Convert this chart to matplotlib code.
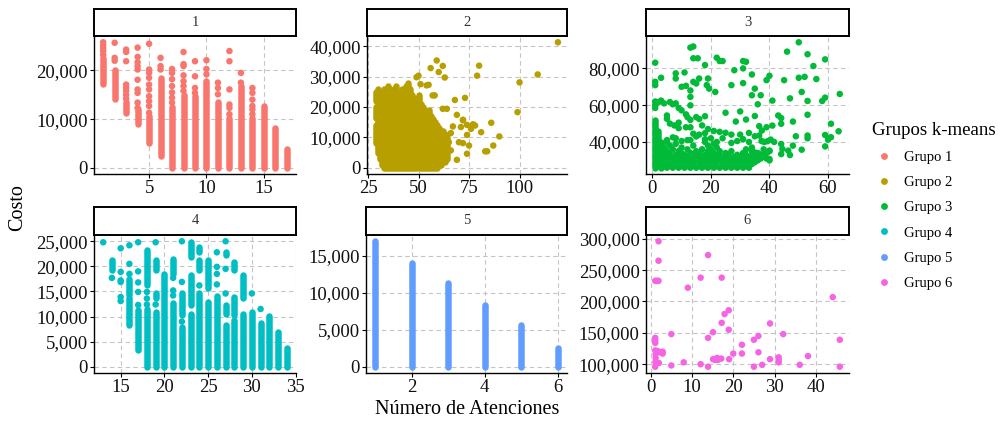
import matplotlib
matplotlib.use('Agg')
import matplotlib.pyplot as plt
from matplotlib.lines import Line2D
from matplotlib.ticker import FuncFormatter, FixedLocator
import numpy as np

plt.rcParams['font.family'] = ['Liberation Serif', 'DejaVu Serif']

# ---------------- data (cost values in thousands) ----------------
group_names = ['Grupo 1', 'Grupo 2', 'Grupo 3', 'Grupo 4', 'Grupo 5', 'Grupo 6']
group_colors = ['#F8766D', '#B79F00', '#00BA38', '#00BFC4', '#619CFF', '#F564E3']
facet_labels = ['1', '2', '3', '4', '5', '6']

# dense columns: (x, low, high)
g1_cols = [(1, 17.2, 22.5), (2, 14.2, 20.0), (3, 11.3, 13.5), (4, 8.9, 12.0), (5, 5.1, 10.6),
           (6, 2.4, 18.5), (7, 0, 12.5), (8, 0, 15.0), (9, 0, 14.7), (10, 0, 17.8),
           (11, 0, 13.5), (12, 0, 10.3), (13, 0, 16.8), (14, 0, 10.3), (15, 0, 12.7),
           (16, 0, 8.2), (17, 0, 3.8)]
g1_x = [1, 1, 1, 1, 1, 2, 2, 2, 3, 3, 3, 3, 3, 3, 3, 3, 4, 4, 4, 4, 4, 4, 4, 4, 4, 4,
        5, 5, 5, 5, 5, 5, 5, 5, 5, 5, 6, 6, 6, 7, 7, 7, 7, 7, 7, 7, 8, 8, 8, 8, 8, 8, 8,
        9, 9, 9, 9, 10, 10, 10, 11, 11, 11, 12, 12, 12, 12, 12, 12, 13, 13,
        14, 14, 14, 14, 14, 14]
g1_y = [23.2, 24.0, 24.6, 25.2, 25.8, 22.0, 22.6, 25.7, 14.2, 15.0, 15.8, 16.4, 17.1, 21.9, 23.8, 24.3,
        12.3, 13.4, 15.4, 16.1, 18.1, 20.2, 20.9, 21.7, 22.8, 24.7,
        11.3, 12.7, 13.7, 14.7, 16.1, 17.1, 18.5, 19.5, 20.2, 25.5, 20.2, 20.9, 22.6,
        13.4, 14.4, 15.5, 16.8, 18.2, 19.5, 20.3, 15.8, 16.8, 17.8, 19.0, 20.9, 21.3, 23.8,
        15.4, 16.4, 18.8, 21.9, 19.2, 20.3, 22.1, 15.1, 16.4, 17.5, 11.0, 12.3, 13.0, 16.1, 21.9, 24.0,
        17.5, 19.5, 11.0, 12.0, 12.7, 14.0, 15.4, 16.4]

g2_cols = [(29, 8, 14), (29, 16.5, 20), (29, 22, 25), (30, 5, 12), (30, 14.5, 26), (31, 3, 18),
           (31, 20.5, 25), (32, 1, 25), (33, 0, 22), (33, 24.5, 26), (34, 0, 17), (34, 19.5, 25),
           (35, 0, 14), (35, 16.5, 22), (35, 24.5, 27), (36, 0, 20), (36, 23, 26), (37, 0, 15),
           (37, 18, 25), (38, 0, 13), (38, 15.5, 19), (38, 21.5, 26), (39, 0, 17), (39, 19.5, 27),
           (40, 0, 14), (40, 17, 22), (40, 24.5, 25), (41, 0, 18), (41, 21, 24), (42, 0, 12),
           (42, 14.5, 20), (42, 22.5, 26), (43, 0, 16), (43, 18.5, 25), (44, 0, 13), (44, 16, 21),
           (44, 24, 27), (45, 0, 15), (45, 18, 22), (45, 26, 28), (46, 0, 17), (46, 20, 26),
           (47, 0, 12), (47, 15, 20), (47, 23, 24), (48, 0, 14), (48, 17, 23), (49, 0, 13),
           (49, 16, 22), (50, 0, 15), (50, 18, 24), (51, 0, 11), (51, 13.5, 17), (51, 19.5, 21),
           (52, 0, 13), (52, 16, 20), (53, 0, 12), (53, 15, 19), (54, 0, 10), (54, 13, 18),
           (55, 0, 14), (55, 17, 19), (56, 0, 17), (57, 0, 12), (57, 14.5, 16), (58, 0, 15),
           (59, 0, 11), (59, 13, 14), (60, 1, 13), (61, 1, 9), (61, 11, 12), (62, 2, 12),
           (63, 2, 7), (63, 9, 11), (64, 3, 10)]
g2_x = [59, 56, 62, 60, 63, 50, 51, 80, 79, 55, 57, 68, 73, 69, 72, 74, 77, 81, 67, 66, 74, 72, 74,
        69, 83, 62, 64, 86, 90, 87, 84, 99, 100, 109, 119, 49, 54, 58, 64, 62, 76, 78, 71, 70, 75,
        66, 65, 72]
g2_y = [35.3, 32.8, 33.5, 31.5, 29.7, 30.3, 27.5, 33.6, 30.3, 27.3, 23.8, 22.3, 23.0, 17.4, 15.8,
        14.1, 14.3, 11.7, 13.6, 11.4, 10.8, 8.1, 4.6, 2.6, 5.4, 8.7, 5.9, 14.8, 10.3, 7.3, 5.4, 18.3,
        28.1, 30.7, 41.3, 29.8, 27.1, 23.8, 19.4, 19.4, 12.8, 13.9, 13.4, 8.4, 7.3, 5.7, 8.4, 15.6]

g3_cols = [(1, 26, 52), (2, 27, 46), (3, 26, 40)]
g3_x = [13, 14, 15.5, 14, 22, 23, 24, 18, 1, 31, 28, 31, 8, 11, 8, 3, 1, 1, 16, 19, 10, 11.5, 14, 15,
        13, 13, 18.6, 19.4, 21.5, 27, 31, 1, 2, 3, 4, 1, 1, 6, 7, 8, 9, 10, 11.5, 12, 13, 13, 15, 16,
        18, 25, 28.5, 30, 5, 5, 6, 7.5, 9, 9, 11.5, 13, 17, 19, 21, 14, 16, 18, 23, 25, 27, 30,
        5, 7, 10, 13, 18, 22, 24, 27, 29, 31,
        50, 46, 53, 59, 55, 32, 34, 40, 39, 45, 50, 52, 56, 35, 34, 37, 36, 41, 47, 51, 53, 58, 59, 64,
        32, 35, 43, 44, 44, 48, 53, 61, 63.6, 36.5, 37.4, 39, 41, 33, 35, 36.5, 37.3, 38.2, 39.3, 40.4,
        41.6, 49, 53, 53, 59, 61, 60, 44, 44.4, 48, 51, 59, 33, 34, 35, 36.5, 37.6, 34, 33, 40, 40,
        44, 46.4, 47,
        4, 4, 4, 4, 5, 5, 5, 5, 5, 6, 6, 6, 6, 7, 7, 7, 7, 8, 8, 8, 8, 8, 9, 9, 9, 9, 10, 10, 10, 10,
        11, 11, 11, 11, 12, 12, 12, 12, 12, 13, 13, 13, 13, 14, 14, 14, 14, 15, 15, 15, 15, 15,
        16, 16, 16, 16, 17, 17, 17, 17, 18, 18, 18, 18, 19, 19, 19, 19, 19, 20, 20, 20, 20, 20,
        21, 21, 21, 21, 21, 22, 22, 22, 22, 23, 23, 23, 23, 24, 24, 24, 25, 25, 25, 25, 26, 26, 26,
        27, 27, 27, 27, 28, 28, 28, 29, 29, 29, 29, 30, 30, 30, 31, 31, 31, 31, 32, 32, 32, 32,
        33, 33, 33, 34, 34, 34, 35, 35, 35, 36, 36, 37, 37, 38, 38, 39, 39, 40, 40]
g3_y = [91.3, 91.9, 85.5, 85.5, 85.8, 84.0, 84.0, 81.8, 83.1, 84.0, 79.0, 80.0, 77.3, 77.8, 74.5, 74.9,
        72.7, 70.9, 74.5, 74.5, 70.0, 70.5, 72.7, 71.8, 68.0, 64.5, 70.9, 69.0, 67.2, 70.9, 72.0, 62.0,
        61.5, 62.5, 61.0, 60.0, 58.5, 61.7, 60.5, 61.0, 58.5, 57.2, 55.0, 53.5, 52.0, 59.9, 53.5, 52.5,
        54.0, 55.9, 51.1, 56.6, 54.4, 52.6, 50.0, 49.0, 50.5, 47.5, 48.0, 48.0, 49.0, 47.0, 46.0, 44.5,
        44.0, 44.8, 45.5, 45.0, 44.0, 44.0,
        41.0, 42.5, 40.5, 41.0, 41.5, 40.0, 42.0, 39.5, 40.5, 41.5,
        94.2, 89.1, 87.7, 84.9, 81.3, 83.6, 76.7, 76.0, 73.6, 73.6, 74.9, 75.4, 74.2, 69.0, 65.4, 65.4,
        60.5, 62.5, 63.7, 67.2, 62.3, 62.3, 64.1, 66.1, 52.2, 54.1, 54.4, 53.0, 49.9, 51.1, 54.8, 49.9,
        45.8, 48.6, 46.2, 48.0, 48.9, 44.9, 43.1, 43.5, 40.5, 40.0, 40.4, 41.3, 40.0, 43.1, 43.5, 42.0,
        43.8, 42.6, 41.3, 38.9, 36.2, 38.0, 35.8, 37.6, 40.0, 37.0, 34.3, 33.4, 32.9, 32.5, 28.9, 35.3,
        30.7, 33.4, 35.3, 32.9,
        27, 30, 33, 37, 26, 29, 31, 35, 40, 28, 32, 34, 38, 26, 29, 31, 36, 27, 30, 33, 39, 42,
        26, 28, 32, 35, 27, 30, 34, 37, 26, 29, 31, 33, 27, 30, 32, 36, 41, 26, 28, 31, 34,
        27, 29, 33, 38, 26, 30, 32, 35, 43, 27, 29, 31, 34, 26, 28, 32, 36, 27, 30, 33, 40,
        26, 29, 31, 35, 38, 27, 30, 33, 36, 42, 26, 28, 31, 34, 39, 27, 29, 32, 37, 26, 30, 33, 35,
        27, 29, 31, 26, 28, 32, 34, 27, 30, 33, 26, 29, 31, 35, 27, 30, 32, 26, 28, 31, 33,
        27, 29, 32, 26, 28, 30, 34, 27, 31, 33, 36, 26, 29, 32, 28, 31, 35, 29, 33, 30.5, 30, 34,
        31, 33, 32, 36, 34, 31, 30, 35]

g4_cols = [(14, 19.2, 21.2), (16, 8.3, 13.6), (16, 14.2, 17.5), (17, 3.3, 11.3), (18, 0, 11.6),
           (18, 16.2, 23.2), (19, 19.2, 21.2), (19, 13.6, 14.6), (19, 0, 10.9), (20, 0, 18.5),
           (21, 18.5, 21.5), (21, 0, 12.6), (22, 10.3, 14.6), (22, 0, 8.0), (23, 21.9, 24.8),
           (23, 12.3, 18.2), (23, 0, 10.6), (24, 22.8, 23.8), (24, 19.2, 21.2), (24, 0, 14.6),
           (25, 15.6, 21.2), (25, 0, 12.9), (26, 0, 14.0), (27, 22.2, 22.8), (27, 10.6, 12.3),
           (27, 0, 8.3), (28, 19.2, 20.9), (28, 10.3, 13.9), (28, 0, 9.3), (29, 13.6, 18.2),
           (29, 0, 10.6), (30, 0, 10.9), (31, 0, 8.8), (32, 0, 10.1), (33, 0, 7.0), (34, 0, 3.8)]
g4_x = [13, 14, 15, 15, 15, 15, 15, 15, 16, 16, 16, 17, 17, 17, 17, 17, 18, 18, 18, 19, 19,
        21, 21, 21, 22, 22, 22, 24, 26, 26, 26, 26, 27, 27, 27, 30, 31]
g4_y = [24.8, 17.7, 13.1, 13.9, 16.9, 17.2, 18.9, 23.6, 18.5, 20.5, 24.2, 12.3, 14.9, 16.8, 19.0, 24.8,
        12.4, 13.6, 14.9, 24.8, 12.4, 17.7, 15.2, 14.2, 25.0, 16.9, 9.0, 16.2, 22.8, 19.9, 18.5, 16.4,
        25.0, 19.5, 14.6, 14.6, 11.5]

g5_cols = [(1, 0, 17.0), (2, 0, 14.0), (3, 0, 11.3), (4, 0, 8.4), (5, 0, 5.6), (6, 0, 2.6)]
g5_x = []
g5_y = []

g6_cols = []
g6_x = [1.9, 1.9, 1.1, 1.5, 1.9, 13.9, 12.1, 17.2, 9.0, 44.1, 18.9, 17.9, 17.2, 28.9, 18.9, 15.1,
        5.0, 32.1, 13.9, 1.1, 1.1, 1.1, 26.1, 25.0, 45.8, 22.1, 1.1, 1.7, 2.3, 2.9, 2.9, 1.2, 1.2, 1.2,
        20.0, 22.1, 26.1, 38.1, 31.0, 31.0, 31.0, 15.1, 16.1, 17.1, 16.3, 15.6, 19.0, 28.9, 8.0, 2.0,
        1.2, 12.1, 5.0, 13.9, 25.0, 27.0, 36.1, 45.8, 1.1]
g6_y = [296, 265, 233, 233, 233, 274, 238, 238, 222, 207, 186, 180, 166, 165, 155, 151, 148, 148,
        142, 142, 138, 134, 145, 139, 139, 131, 122, 121, 119, 117, 120, 116, 110, 104, 117, 117, 119,
        113, 111, 107, 103, 108, 110, 109, 107, 107, 108, 108, 103, 102, 102, 100, 98, 96, 96, 99, 99,
        96, 96]

all_cols = [g1_cols, g2_cols, g3_cols, g4_cols, g5_cols, g6_cols]
all_x = [g1_x, g2_x, g3_x, g4_x, g5_x, g6_x]
all_y = [g1_y, g2_y, g3_y, g4_y, g5_y, g6_y]

x_ticks = [[5, 10, 15], [25, 50, 75, 100], [0, 20, 40, 60],
           [15, 20, 25, 30, 35], [2, 4, 6], [0, 10, 20, 30, 40]]
y_ticks = [[0, 10000, 20000], [0, 10000, 20000, 30000, 40000], [40000, 60000, 80000],
           [0, 5000, 10000, 15000, 20000, 25000], [0, 5000, 10000, 15000],
           [100000, 150000, 200000, 250000, 300000]]

# ---------------- layout (pixels) ----------------
W, H = 1007, 421
fig = plt.figure(figsize=(W / 100, H / 100), dpi=100)
fig.patch.set_facecolor('white')

panel_left = [94, 367, 646, 94, 366, 646]
panel_right = [296, 567, 849, 296, 567, 849]
panel_top = [36, 36, 36, 235, 235, 235]
panel_bottom = [174, 174, 174, 373, 373, 373]
strip_top = [9, 9, 9, 207, 207, 207]

dot_px = 6.5
dot_pt = dot_px * 72 / 100
fmt = FuncFormatter(lambda v, p: f'{v:,.0f}')

for i in range(6):
    l, r, t, b = panel_left[i], panel_right[i], panel_top[i], panel_bottom[i]
    ax = fig.add_axes([l / W, 1 - b / H, (r - l) / W, (b - t) / H])
    col = group_colors[i]
    xs_all, ys_all = [], []
    for (cx, lo, hi) in all_cols[i]:
        ax.plot([cx, cx], [lo * 1000, hi * 1000], color=col, lw=dot_pt,
                solid_capstyle='round', zorder=3)
        xs_all += [cx, cx]
        ys_all += [lo * 1000, hi * 1000]
    if all_x[i]:
        yv = np.array(all_y[i]) * 1000
        ax.scatter(all_x[i], yv, s=dot_pt ** 2, color=col, edgecolors='none', zorder=3)
        xs_all += list(all_x[i])
        ys_all += list(yv)
    xmin, xmax = min(xs_all), max(xs_all)
    ymin, ymax = min(ys_all), max(ys_all)
    dx, dy = (xmax - xmin) * 0.05, (ymax - ymin) * 0.05
    ax.set_xlim(xmin - dx, xmax + dx)
    ax.set_ylim(ymin - dy, ymax + dy)
    ax.xaxis.set_major_locator(FixedLocator(x_ticks[i]))
    ax.yaxis.set_major_locator(FixedLocator(y_ticks[i]))
    ax.yaxis.set_major_formatter(fmt)
    ax.set_axisbelow(True)
    ax.grid(True, color='#C4C4C4', linestyle=(0, (4, 3)), linewidth=0.8)
    for s in ['top', 'right']:
        ax.spines[s].set_visible(False)
    for s in ['left', 'bottom']:
        ax.spines[s].set_color('black')
        ax.spines[s].set_linewidth(1.0)
    ax.tick_params(axis='both', length=3, width=0.8, color='black', labelsize=13.5,
                   labelcolor='#111111', pad=1.5)
    # strip
    st = strip_top[i]
    sax = fig.add_axes([l / W, 1 - t / H, (r - l) / W, (t - st) / H])
    sax.set_xticks([])
    sax.set_yticks([])
    sax.set_facecolor('white')
    for s in sax.spines.values():
        s.set_color('black')
        s.set_linewidth(1.4)
    sax.text(0.5, 0.5, facet_labels[i], ha='center', va='center', fontsize=10.5,
             color='#333333', transform=sax.transAxes)

fig.text(18 / W, 1 - 208 / H, 'Costo', rotation=90, ha='center', va='center', fontsize=14.5)
fig.text(467 / W, 1 - 409 / H, 'Número de Atenciones', ha='center', va='center', fontsize=14.5)

handles = [Line2D([0], [0], marker='o', linestyle='none', markersize=dot_pt * 1.05,
                  markerfacecolor=c, markeredgecolor='none') for c in group_colors]
leg = fig.legend(handles, group_names, title='Grupos k-means', loc='upper left',
                 bbox_to_anchor=(866 / W, 1 - 116 / H), frameon=False, fontsize=10.5,
                 title_fontsize=13.5, labelspacing=0.82, handletextpad=0.55,
                 handlelength=1.64, borderaxespad=0, alignment='left')

fig.savefig('out.png', dpi=100, facecolor='white')
